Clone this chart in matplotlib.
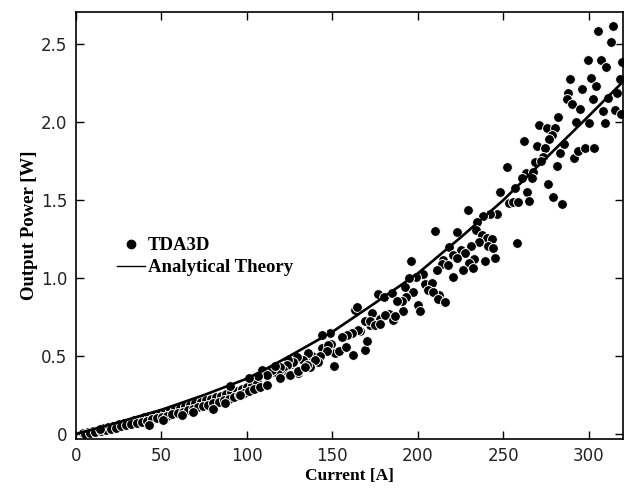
import matplotlib
matplotlib.use('Agg')
import matplotlib.pyplot as plt
from matplotlib.lines import Line2D

# ---------------- data ----------------
theory_current = [0, 10, 25, 50, 75, 100, 110, 125, 150, 175, 200, 225, 250, 275, 300, 320]
theory_power = [0, 0.03, 0.075, 0.155, 0.25, 0.355, 0.41, 0.50, 0.655, 0.84, 1.03, 1.26, 1.50, 1.77, 2.04, 2.26]

# TDA3D points: dense band at low current
band_current = [4, 7, 10, 13, 16, 19, 22, 25, 28, 31, 34, 37, 40, 43, 46, 49, 52, 55, 58, 61,
                64, 67, 70, 73, 76, 79, 82, 85, 88, 91, 94, 97, 100, 103, 106,
                5.5, 8.5, 11.5, 14.5, 17.5, 20.5, 23.5, 26.5, 29.5, 32.5, 35.5, 38.5, 41.5, 44.5,
                47.5, 50.5, 53.5, 56.5, 59.5, 62.5, 65.5, 68.5, 71.5, 74.5, 77.5, 80.5, 83.5,
                86.5, 89.5, 92.5, 95.5, 98.5, 101.5, 104.5, 107.5,
                112, 116, 121, 126, 132, 138, 144, 149, 156, 160, 166, 172, 178, 183]
band_power = [0.005, 0.012, 0.020, 0.027, 0.037, 0.045, 0.054, 0.064, 0.072, 0.080, 0.089, 0.098,
              0.106, 0.115, 0.125, 0.133, 0.142, 0.151, 0.160, 0.169, 0.178, 0.188, 0.197, 0.207,
              0.216, 0.226, 0.236, 0.246, 0.257, 0.267, 0.278, 0.289, 0.302, 0.316, 0.332,
              0.000, 0.008, 0.013, 0.020, 0.027, 0.034, 0.041, 0.049, 0.056, 0.063, 0.071, 0.079,
              0.086, 0.094, 0.102, 0.110, 0.118, 0.127, 0.133, 0.143, 0.153, 0.160, 0.171, 0.180,
              0.189, 0.198, 0.208, 0.217, 0.227, 0.238, 0.248, 0.260, 0.273, 0.286, 0.300,
              0.37, 0.40, 0.43, 0.45, 0.48, 0.50, 0.55, 0.58, 0.62, 0.64, 0.66, 0.70, 0.74, 0.77]

# TDA3D points: scattered
scatter_current = [
    305.2, 314.3, 313.0, 299.4, 307.1, 310.1, 319.6, 289.0, 301.1, 318.2, 288.0, 287.1, 295.8,
    304.2, 290.0, 302.3, 311.4, 316.3, 294.9, 308.5, 315.3, 318.7, 282.2, 292.5, 300.3, 309.5,
    271.1, 275.4, 280.2, 278.3, 276.9, 262.1, 269.9, 274.4, 285.5, 283.2, 273.0, 268.5, 271.9,
    291.3, 293.9, 297.8, 303.2, 281.2, 252.0, 263.3, 267.5, 266.6, 260.8, 256.8, 276.3, 264.0,
    253.5, 255.8, 258.8, 265.2, 279.2, 284.2, 248.1, 257.8,
    229.2, 246.1, 242.2, 238.3, 234.4, 210.1, 223.1, 234.0, 237.4, 240.6, 243.2, 236.0, 230.9,
    241.2, 244.2, 218.4, 225.3, 227.6, 220.4, 214.9, 232.9, 229.9, 214.0, 217.8, 222.7, 245.1,
    239.3, 232.1, 226.6, 211.0, 220.8, 195.8, 202.8, 198.9, 195.0, 192.5, 204.2, 208.1, 197.0,
    206.1, 212.6, 209.1, 193.1, 190.6, 212.0, 215.9, 200.3, 201.5, 191.2,
    176.9, 180.2, 184.7, 187.6, 163.3, 164.3, 173.0, 169.1, 172.0, 175.0, 177.9, 180.8, 185.7,
    186.7, 165.2, 161.3, 158.4, 155.5, 148.7, 143.8, 147.7, 151.6, 153.9, 158.0, 162.3, 169.1,
    170.1, 146.7, 142.8, 141.8, 139.9, 136.0, 133.0, 129.2, 127.2, 124.3, 123.3, 121.3, 119.4,
    118.4, 130.1, 137.0, 151.2, 108.7, 114.6, 111.6, 106.7, 101.5, 124.3, 135.0,
    42.6, 51.2, 62.0, 68.7, 80.0, 87.3, 96.0, 14.2, 90.2, 111.6, 119.4, 125.3, 130.1, 134.0, 116.5]
scatter_power = [
    2.587, 2.617, 2.517, 2.399, 2.399, 2.356, 2.385, 2.278, 2.282, 2.278, 2.186, 2.147, 2.213,
    2.233, 2.117, 2.149, 2.154, 2.190, 2.083, 2.074, 2.079, 2.053, 2.036, 2.004, 1.997, 1.997,
    1.983, 1.962, 1.962, 1.919, 1.891, 1.880, 1.848, 1.833, 1.861, 1.801, 1.780, 1.744, 1.748,
    1.769, 1.818, 1.833, 1.833, 1.720, 1.715, 1.673, 1.683, 1.641, 1.641, 1.577, 1.604, 1.555,
    1.481, 1.485, 1.485, 1.497, 1.519, 1.476, 1.555, 1.228,
    1.438, 1.410, 1.412, 1.399, 1.363, 1.299, 1.295, 1.310, 1.278, 1.260, 1.252, 1.231, 1.203,
    1.203, 1.192, 1.199, 1.181, 1.160, 1.149, 1.113, 1.124, 1.100, 1.092, 1.085, 1.128, 1.128,
    1.107, 1.064, 1.053, 1.049, 1.010, 1.107, 1.028, 1.010, 1.000, 0.946, 0.963, 0.968, 0.914,
    0.925, 0.893, 0.908, 0.882, 0.856, 0.865, 0.844, 0.829, 0.790, 0.786,
    0.899, 0.882, 0.904, 0.850, 0.797, 0.814, 0.776, 0.722, 0.728, 0.701, 0.705, 0.765, 0.733,
    0.758, 0.669, 0.647, 0.637, 0.622, 0.651, 0.637, 0.572, 0.519, 0.534, 0.558, 0.508, 0.540,
    0.594, 0.530, 0.502, 0.465, 0.476, 0.519, 0.476, 0.497, 0.465, 0.476, 0.444, 0.412, 0.433,
    0.387, 0.391, 0.433, 0.438, 0.412, 0.412, 0.380, 0.369, 0.359, 0.380, 0.444,
    0.055, 0.092, 0.124, 0.142, 0.163, 0.200, 0.250, 0.030, 0.305, 0.316, 0.359, 0.380, 0.401, 0.433, 0.438]

x_ticks = [0, 50, 100, 150, 200, 250, 300]
x_tick_labels = ['0', '50', '100', '150', '200', '250', '300']
y_ticks = [0, 0.5, 1.0, 1.5, 2.0, 2.5]
y_tick_labels = ['0', '0.5', '1.0', '1.5', '2.0', '2.5']

# ---------------- plot ----------------
tick_font = ['DejaVu Sans Condensed', 'DejaVu Sans']
label_font = ['Liberation Serif', 'DejaVu Serif']

fig = plt.figure(figsize=(6.28, 4.91), dpi=100)
ax = fig.add_axes([0.1207, 0.1059, 0.8713, 0.8697])

ax.scatter(band_current + scatter_current, band_power + scatter_power, s=50, c='black',
           edgecolors='white', linewidths=0.7, zorder=2)
ax.plot(theory_current, theory_power, color='black', lw=1.9, zorder=3)

ax.set_xlim(0, 320)
ax.set_ylim(-0.032, 2.707)

ax.set_xticks(x_ticks)
ax.set_xticklabels(x_tick_labels, family=tick_font, fontsize=12, color='#222222')
ax.set_yticks(y_ticks)
ax.set_yticklabels(y_tick_labels, family=tick_font, fontsize=12, color='#222222')
ax.tick_params(direction='in', length=6, width=1.0, top=True, right=True, pad=6)

for sp in ax.spines.values():
    sp.set_linewidth(1.2)

ax.set_xlabel('Current [A]', family=label_font, fontweight='bold', fontsize=12.5, labelpad=2)
ax.set_ylabel('Output Power [W]', family=label_font, fontweight='bold', fontsize=13.5, labelpad=2)

handles = [Line2D([], [], marker='o', ls='none', color='black', markersize=6),
           Line2D([], [], color='black', lw=1.0)]
ax.legend(handles, ['TDA3D', 'Analytical Theory'], loc='center left',
          bbox_to_anchor=(0.075, 0.427), frameon=False, borderpad=0, borderaxespad=0,
          handlelength=1.5, handletextpad=0.16, labelspacing=0.27,
          prop={'family': label_font, 'weight': 'bold', 'size': 13.5})

fig.savefig('out.png', dpi=100)
